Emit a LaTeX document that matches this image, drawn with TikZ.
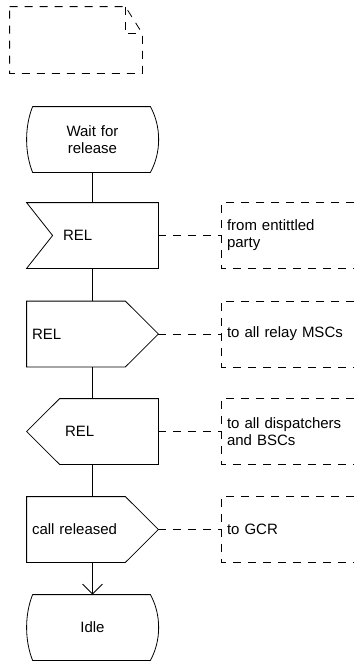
\documentclass[tikz,border=0pt]{standalone}
\usepackage{fontspec}
\setmainfont{Liberation Sans}
\usetikzlibrary{arrows.meta}

\tikzstyle{shapebox} = [rectangle, minimum width=131pt, minimum height=65pt, inner sep=5pt,
                        text width=121pt]
\tikzstyle{state}    = [shapebox, align=center,
                        append after command={\pgfextra{
                          \draw ([xshift=6pt]\tikzlastnode.north west) -- ([xshift=-8pt]\tikzlastnode.north east)
                            .. controls +(11pt,-20pt) and +(11pt,20pt) .. ([xshift=-8pt]\tikzlastnode.south east)
                            -- ([xshift=6pt]\tikzlastnode.south west)
                            .. controls +(-8pt,20pt) and +(-8pt,-20pt) .. ([xshift=6pt]\tikzlastnode.north west);}}]
\tikzstyle{sigin}    = [shapebox, align=left,
                        append after command={\pgfextra{
                          \draw (\tikzlastnode.north west) -- (\tikzlastnode.north east) -- (\tikzlastnode.south east)
                            -- (\tikzlastnode.south west) -- ([xshift=26pt]\tikzlastnode.west) -- cycle;}}]
\tikzstyle{sigout}   = [shapebox, align=left,
                        append after command={\pgfextra{
                          \draw (\tikzlastnode.north west) -- ([xshift=-33pt]\tikzlastnode.north east) -- (\tikzlastnode.east)
                            -- ([xshift=-33pt]\tikzlastnode.south east) -- (\tikzlastnode.south west) -- cycle;}}]
\tikzstyle{sigleft}  = [shapebox, align=left,
                        append after command={\pgfextra{
                          \draw ([xshift=33pt]\tikzlastnode.north west) -- (\tikzlastnode.north east) -- (\tikzlastnode.south east)
                            -- ([xshift=33pt]\tikzlastnode.south west) -- (\tikzlastnode.west) -- cycle;}}]
\tikzstyle{comment}  = [rectangle, minimum width=132pt, minimum height=65pt, inner sep=5pt,
                        text width=122pt, align=left,
                        append after command={\pgfextra{
                          \draw[dashline] (\tikzlastnode.north east) -- (\tikzlastnode.north west)
                            -- (\tikzlastnode.south west) -- (\tikzlastnode.south east);}}]
\tikzstyle{textsym}  = [rectangle, minimum width=132pt, minimum height=66pt, inner sep=0pt,
                        append after command={\pgfextra{
                          \draw[dashline] (\tikzlastnode.north west) -- ([xshift=-17pt]\tikzlastnode.north east)
                            -- ([yshift=-27pt]\tikzlastnode.north east) -- (\tikzlastnode.south east)
                            -- (\tikzlastnode.south west) -- cycle;
                          \draw[dashline] ([xshift=-17pt]\tikzlastnode.north east) -- ++(0pt,-27pt)
                            -- ([yshift=-27pt]\tikzlastnode.north east);}}]
\tikzstyle{dashline} = [dash pattern=on 8pt off 7pt]
\tikzstyle{arrow}    = [-{Straight Barb[length=10pt,width=20pt]}]

\begin{document}
\begin{tikzpicture}[x=1pt, y=-1pt, line width=0.8pt,
                    every node/.style={font=\fontsize{15}{17}\selectfont}]
  \useasboundingbox (0,0) rectangle (355,664);

  % Text symbol
  \node (note) [textsym] at (76,40) {};

  % Main column
  \node (wait)    [state]   at (92.5,139.5) {Wait for\\release};
  \node (relin)   [sigin]   at (92.5,235.5) {\hspace*{31pt}REL};
  \node (relout)  [sigout]  at (92.5,334)   {REL};
  \node (relleft) [sigleft] at (92.5,431.5) {\hspace*{33pt}REL};
  \node (callrel) [sigout]  at (92.5,529.5) {call released};
  \node (idle)    [state]   at (92.5,627.5) {Idle};

  % Comments
  \node (c1) [comment] at (288,235.5) {from entittled\\party};
  \node (c2) [comment] at (288,334)   {to all relay MSCs};
  \node (c3) [comment] at (288,431.5) {to all dispatchers\\and BSCs};
  \node (c4) [comment] at (288,529.5) {to GCR};

  % Flow
  \draw (wait) -- (relin);
  \draw (relin) -- (relout);
  \draw (relout) -- (relleft);
  \draw (relleft) -- (callrel);
  \draw[arrow] (callrel) -- (idle);

  % Comment links
  \draw[dashline] (relin.east) -- (c1.west);
  \draw[dashline] (relout.east) -- (c2.west);
  \draw[dashline] (relleft.east) -- (c3.west);
  \draw[dashline] (callrel.east) -- (c4.west);

\end{tikzpicture}
\end{document}
